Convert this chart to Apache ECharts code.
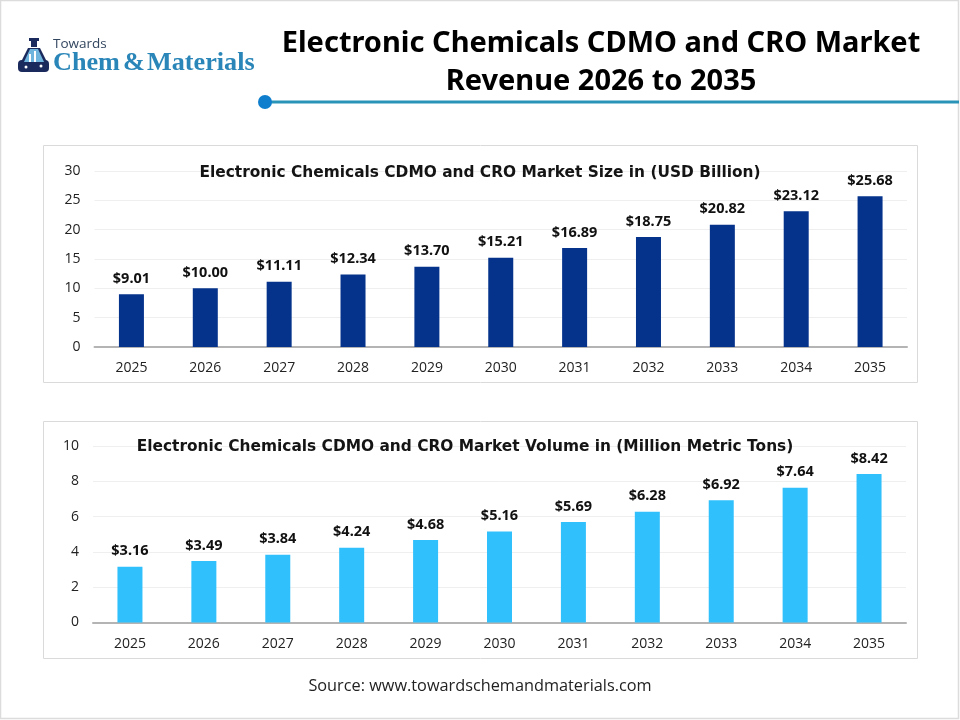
<!DOCTYPE html>
<html>
<head>
<meta charset="utf-8">
<style>html,body{margin:0;padding:0;background:#fff}#chart{width:960px;height:720px}</style>
<script src="https://cdn.jsdelivr.net/npm/echarts@6/dist/echarts.min.js"></script>
</head>
<body>
<div id="chart"></div>
<script>
const years = ['2025','2026','2027','2028','2029','2030','2031','2032','2033','2034','2035'];
const revenue = [9.01,10.00,11.11,12.34,13.70,15.21,16.89,18.75,20.82,23.12,25.68];
const volume = [3.16,3.49,3.84,4.24,4.68,5.16,5.69,6.28,6.92,7.64,8.42];
const mainTitle = 'Electronic Chemicals CDMO and CRO Market\nRevenue 2026 to 2035';
const revenueTitle = 'Electronic Chemicals CDMO and CRO Market Size in (USD Billion)';
const volumeTitle = 'Electronic Chemicals CDMO and CRO Market Volume in (Million Metric Tons)';
const sourceText = 'Source: www.towardschemandmaterials.com';

const chart = echarts.init(document.getElementById('chart'), null, {renderer:'canvas'});

const panel = (x,y,w,h,stroke,lw) => ({type:'rect',silent:true,z:0,shape:{x,y,width:w,height:h},
  style:{fill:'#fff',stroke,lineWidth:lw}});

const xAxisFor = (gridIndex,margin) => ({
  type:'category',gridIndex,data:years,
  axisTick:{show:false},
  axisLine:{lineStyle:{color:'#b4b4b4',width:2}},
  axisLabel:{color:'#222',fontFamily:'Open Sans',fontSize:14,margin}
});
const yAxisFor = (gridIndex,max,interval) => ({
  type:'value',gridIndex,min:0,max,interval,
  axisLine:{show:false},axisTick:{show:false},
  splitLine:{lineStyle:{color:'#efefef',width:1}},
  axisLabel:{color:'#222',fontFamily:'Open Sans',fontSize:14,margin:14}
});
const barsFor = (idx,data,color) => ({
  type:'bar',xAxisIndex:idx,yAxisIndex:idx,data,barWidth:25,z:3,
  itemStyle:{color},
  label:{show:true,position:'top',distance:8,color:'#111',fontFamily:'Noto Sans',fontWeight:700,fontSize:14.5,
    formatter:p=>'$'+p.value.toFixed(2)}
});

chart.setOption({
  animation:false,
  backgroundColor:'#fff',
  title:[
    {text:revenueTitle,left:475,top:160,textAlign:'center',
     textStyle:{fontFamily:'DejaVu Sans',fontWeight:700,fontSize:15.4,color:'#141414',backgroundColor:'#fff'}},
    {text:volumeTitle,left:460,top:434,textAlign:'center',
     textStyle:{fontFamily:'DejaVu Sans',fontWeight:700,fontSize:15.4,color:'#141414',backgroundColor:'#fff'}}
  ],
  grid:[
    {left:94.5,right:53,top:171,height:176},
    {left:93,right:54,top:446,height:176.5}
  ],
  xAxis:[xAxisFor(0,14),xAxisFor(1,15)],
  yAxis:[yAxisFor(0,30,5),yAxisFor(1,10,2)],
  series:[barsFor(0,revenue,'#05338c'),barsFor(1,volume,'#30c0fc')],
  graphic:[
    {type:'rect',silent:true,z:-2,shape:{x:0.5,y:0.5,width:958,height:718},style:{fill:'#fff',stroke:'#dcdcdc',lineWidth:1.5}},
    panel(43.5,145.5,874,237,'#dadada',1),
    panel(43.5,421.5,874,237,'#dadada',1),
    {type:'text',z:5,style:{text:mainTitle,x:601,y:25,align:'center',verticalAlign:'top',
      font:'700 29px "Noto Sans"',lineHeight:38,fill:'#000'}},
    {type:'line',z:5,shape:{x1:265,y1:102,x2:959,y2:102},style:{stroke:'#2a93b8',lineWidth:3}},
    {type:'circle',z:6,shape:{cx:265,cy:102,r:7},style:{fill:'#0f7fcd'}},
    {type:'text',z:5,style:{text:'Towards',x:53,y:37,font:'400 13.5px "Open Sans"',fill:'#33465f'}},
    {type:'text',z:5,style:{text:'Chem',x:53,y:50,font:'700 26.2px "Liberation Serif"',fill:'#2a86b8'}},
    {type:'text',z:5,style:{text:'&',x:123,y:50,font:'700 26.2px "Liberation Serif"',fill:'#2a86b8'}},
    {type:'text',z:5,style:{text:'Materials',x:147,y:50,font:'700 26.2px "Liberation Serif"',fill:'#2a86b8'}},
    // flask emblem of the logo
    {type:'rect',z:5,shape:{x:29,y:38,width:10,height:3},style:{fill:'#1b2a5c'}},
    {type:'rect',z:5,shape:{x:31,y:41,width:6,height:6},style:{fill:'#1b2a5c'}},
    {type:'polygon',z:5,shape:{points:[[28,48],[40,48],[48,64],[20,64]]},style:{fill:'#1b2a5c'}},
    {type:'rect',z:5,shape:{x:18,y:60,width:31,height:12,r:4},style:{fill:'#1b2a5c'}},
    {type:'polygon',z:6,shape:{points:[[30,49],[38,49],[44,62],[24,62]]},style:{fill:'#6fb4dd'}},
    {type:'rect',z:7,shape:{x:29,y:54,width:2,height:8},style:{fill:'#fff'}},
    {type:'rect',z:7,shape:{x:34,y:51,width:2,height:11},style:{fill:'#fff'}},
    {type:'circle',z:7,shape:{cx:26,cy:67,r:1.5},style:{fill:'#fff'}},
    {type:'circle',z:7,shape:{cx:41,cy:66,r:1.5},style:{fill:'#fff'}},
    {type:'text',z:5,style:{text:sourceText,x:480,y:678,align:'center',verticalAlign:'top',
      font:'400 16.3px "Open Sans"',fill:'#222'}}
  ]
});
</script>
</body>
</html>
